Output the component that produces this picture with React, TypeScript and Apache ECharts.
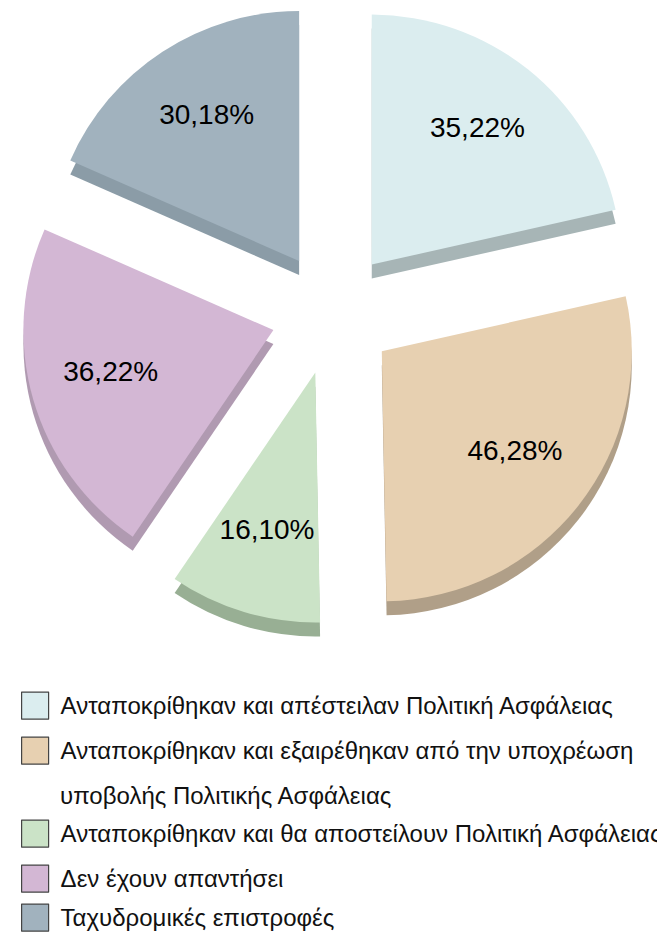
import React, { useEffect, useRef } from "react";
import * as echarts from "echarts";

const categoryLines: string[][] = [
  ["Ανταποκρίθηκαν και απέστειλαν Πολιτική Ασφάλειας"],
  ["Ανταποκρίθηκαν και εξαιρέθηκαν από την υποχρέωση", "υποβολής Πολιτικής Ασφάλειας"],
  ["Ανταποκρίθηκαν και θα αποστείλουν Πολιτική Ασφάλειας"],
  ["Δεν έχουν απαντήσει"],
  ["Ταχυδρομικές επιστροφές"],
];
const categories = categoryLines.map((l) => l.join(" "));
const values = [35.22, 46.28, 16.1, 36.22, 30.18];
const topColors = ["#DBEDEF", "#E7D0B1", "#CBE3C7", "#D3B7D4", "#A1B2BE"];
const sideColors = ["#A7B5B6", "#B09F88", "#98AF94", "#B09AB1", "#8B9CA7"];

const FONT = "'Liberation Sans', Arial, sans-serif";
const CX = 333;
const CY = 313;
const R = 250;
const DEPTH = 14;
const OFFSET = 62;
const legendIconCenters = [705, 750, 833, 878, 917];

export default function App() {
  const ref = useRef<HTMLDivElement>(null);
  useEffect(() => {
    document.body.style.margin = "0";
    if (!ref.current) return;
    const chart = echarts.init(ref.current, undefined, { renderer: "svg" });
    const mk = (colors: string[]) =>
      categories.map((name, i) => ({
        name,
        value: values[i],
        selected: true,
        itemStyle: { color: colors[i] },
      }));
    const pieBase = {
      type: "pie",
      startAngle: 90,
      clockwise: true,
      selectedMode: "multiple",
      selectedOffset: OFFSET,
      avoidLabelOverlap: false,
      labelLine: { show: false },
      emphasis: { disabled: true },
      silent: true,
    };
    const legends = categories.map((name, i) => ({
      data: [name],
      orient: "vertical",
      left: 21,
      top: legendIconCenters[i] - 13.5,
      padding: 0,
      itemWidth: 27,
      itemHeight: 27,
      icon: "rect",
      selectedMode: false,
      itemStyle: { borderColor: "#444", borderWidth: 1.2 },
      formatter: () => categoryLines[i][0],
      textStyle: {
        fontSize: 24,
        fontFamily: FONT,
        color: "#111",
        padding: [4, 0, 0, 7],
      },
    }));
    const extraTexts: any[] = [];
    categoryLines.forEach((lines, i) => {
      lines.slice(1).forEach((line, j) => {
        extraTexts.push({
          type: "text",
          x: 60,
          y: legendIconCenters[i] + 45 * (j + 1),
          style: {
            text: line,
            fontSize: 24,
            fontFamily: FONT,
            fill: "#111",
            verticalAlign: "middle",
          },
        });
      });
    });
    chart.setOption({
      animation: false,
      legend: legends,
      graphic: extraTexts,
      series: [
        {
          ...pieBase,
          z: 3,
          center: [CX, CY],
          radius: [0, R],
          label: { show: false },
          data: mk(topColors),
        },
        {
          ...pieBase,
          z: 2,
          center: [CX, CY + DEPTH],
          radius: [0, R],
          label: { show: false },
          data: mk(sideColors),
        },
        {
          ...pieBase,
          z: 4,
          center: [CX, CY - 5],
          radius: [R * 0.33, R],
          label: {
            show: true,
            position: "inside",
            fontSize: 28,
            fontFamily: FONT,
            color: "#000",
            formatter: (p: any) => p.value.toFixed(2).replace(".", ",") + "%",
          },
          data: categories.map((name, i) => ({
            name,
            value: values[i],
            selected: true,
            itemStyle: { color: "rgba(0,0,0,0)" },
          })),
        },
      ],
    });
    return () => chart.dispose();
  }, []);
  return <div ref={ref} style={{ width: 657, height: 936 }} />;
}
